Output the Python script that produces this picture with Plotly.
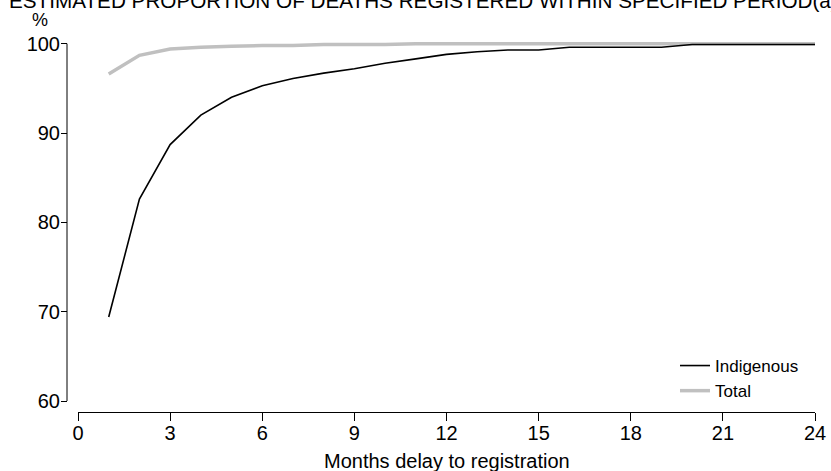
import plotly.graph_objects as go

# Months after death (x) and cumulative share of deaths registered (%)
months = list(range(1, 25))
indigenous = [69.4, 82.6, 88.7, 92.0, 94.0, 95.3, 96.1, 96.7, 97.2, 97.8, 98.3, 98.8,
              99.1, 99.3, 99.3, 99.6, 99.6, 99.6, 99.6, 99.9, 99.9, 99.9, 99.9, 99.9]
total = [96.6, 98.7, 99.4, 99.6, 99.7, 99.8, 99.8, 99.9, 99.9, 99.9, 100.0, 100.0,
         100.0, 100.0, 100.0, 100.0, 100.0, 100.0, 100.0, 100.0, 100.0, 100.0, 100.0, 100.0]

x_ticks = [0, 3, 6, 9, 12, 15, 18, 21, 24]
y_ticks = [60, 70, 80, 90, 100]

title_text = "ESTIMATED PROPORTION OF DEATHS REGISTERED WITHIN SPECIFIED PERIOD(a)"
x_title = "Months delay to registration"

FONT = "Liberation Sans, Arial, sans-serif"

fig = go.Figure()
fig.add_trace(go.Scatter(x=months, y=total, mode="lines", name="Total",
                         line=dict(color="#c0c0c0", width=3.5)))
fig.add_trace(go.Scatter(x=months, y=indigenous, mode="lines", name="Indigenous",
                         line=dict(color="#000000", width=1.6)))

W, H = 831, 471
ml, mr, mt, mb = 67, 16, 41, 59
plot_w = W - ml - mr
plot_h = H - mt - mb


def px_x(px):
    return (px - ml) / plot_w


def px_y(py):
    return (H - mb - py) / plot_h


fig.update_layout(
    width=W, height=H,
    margin=dict(l=ml, r=mr, t=mt, b=mb, pad=0, autoexpand=False),
    paper_bgcolor="white", plot_bgcolor="white",
    font=dict(family=FONT, color="black"),
    showlegend=True,
    legend=dict(
        traceorder="reversed",
        x=px_x(675), xanchor="left",
        y=px_y(348), yanchor="top",
        font=dict(size=17, family=FONT),
        bgcolor="rgba(0,0,0,0)", borderwidth=0,
        itemwidth=30, tracegroupgap=0,
    ),
    xaxis=dict(
        range=[0, 24], domain=[px_x(78), 1],
        anchor="free", position=0, automargin=False,
        tickmode="array", tickvals=x_ticks, ticktext=[str(v) for v in x_ticks],
        ticks="outside", ticklen=8, tickwidth=1, tickcolor="black",
        ticklabelstandoff=-5,
        showline=True, linecolor="black", linewidth=1,
        showgrid=False, zeroline=False,
        tickfont=dict(size=20, family=FONT),
    ),
    yaxis=dict(
        range=[60, 100.3], domain=[px_y(401), 1],
        anchor="free", position=0, automargin=False,
        tickmode="array", tickvals=y_ticks, ticktext=[str(v) for v in y_ticks],
        ticks="outside", ticklen=6, tickwidth=1, tickcolor="black",
        ticklabelstandoff=-3,
        showline=False,
        showgrid=False, zeroline=False,
        tickfont=dict(size=20, family=FONT),
    ),
)

# y axis line spanning only the labelled range
fig.add_shape(type="line", xref="paper", yref="y", x0=0, x1=0, y0=60, y1=100,
              line=dict(color="black", width=1))

# x axis title
fig.add_annotation(text=x_title, xref="paper", yref="paper",
                   x=px_x(447), y=px_y(461),
                   xanchor="center", yanchor="middle", showarrow=False,
                   font=dict(size=20, family=FONT))

# unit label above the y axis
fig.add_annotation(text="%", xref="paper", yref="paper",
                   x=px_x(40), y=px_y(20),
                   xanchor="center", yanchor="middle", showarrow=False,
                   font=dict(size=18, family=FONT))

# chart heading at the top edge of the page
fig.add_annotation(text=title_text, xref="paper", yref="paper",
                   x=px_x(7), y=px_y(1),
                   xanchor="left", yanchor="middle", showarrow=False,
                   font=dict(size=20.7, family=FONT))

fig.write_html("out.html")
